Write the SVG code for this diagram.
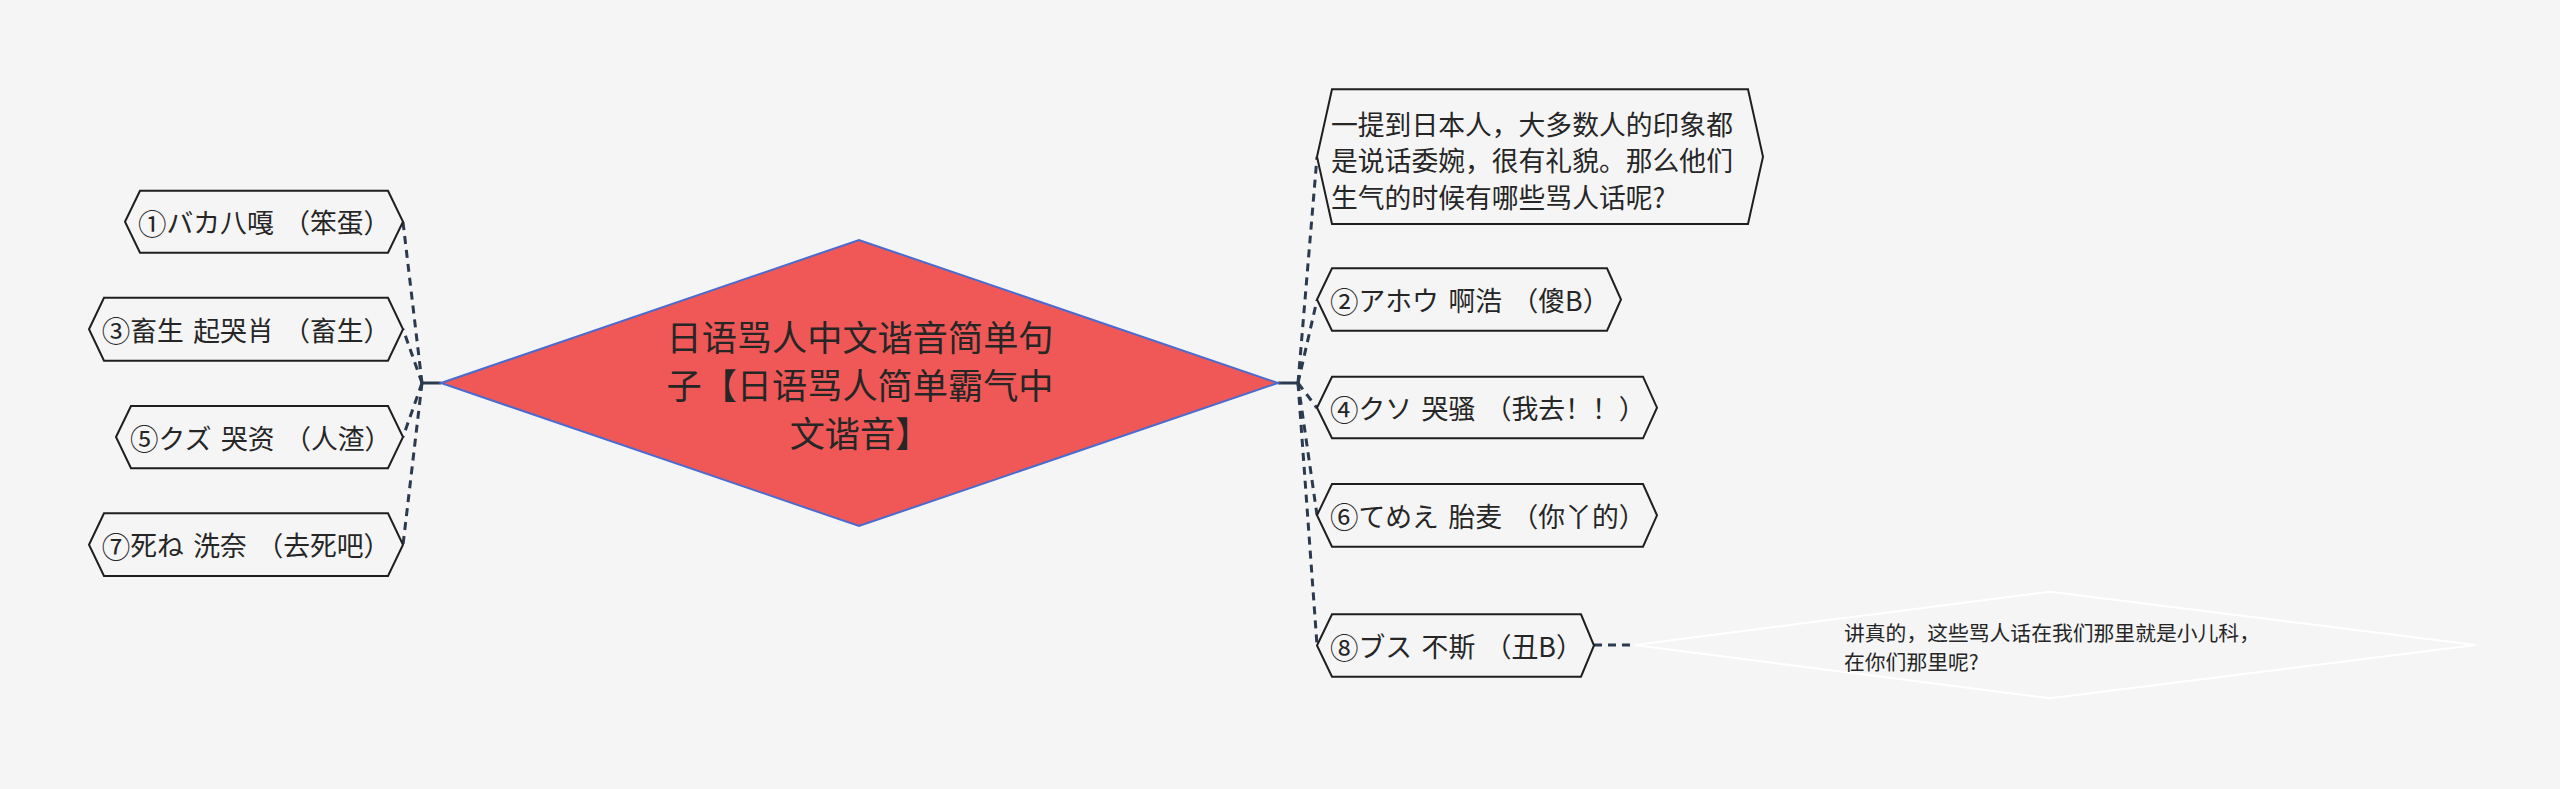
<svg xmlns="http://www.w3.org/2000/svg" width="2560" height="789" viewBox="0 0 2560 789">
<style>
text{font-family:"Noto Sans CJK SC","Noto Sans CJK JP",sans-serif;fill:#262626;dominant-baseline:central}
.node{fill:#f5f5f5;stroke:#1f1f1f;stroke-width:2}
.t{font-size:26.8px;word-spacing:3.5px}
.c{font-size:28.5px}
.dash{fill:none;stroke:#2b3a4e;stroke-width:3;stroke-dasharray:8 6}
.solid{fill:none;stroke:#2b3a4e;stroke-width:3}
</style>
<rect width="2560" height="789" fill="#f5f5f5"/>
<g id="connectors">
<line class="solid" x1="422" y1="383" x2="441" y2="383"/>
<line class="solid" x1="1278" y1="383" x2="1298" y2="383"/>
<path class="dash" d="M422,383 L403,222"/>
<path class="dash" d="M422,383 L403,329"/>
<path class="dash" d="M422,383 L403,437"/>
<path class="dash" d="M422,383 L403,545"/>
<path class="dash" d="M1298,383 L1317,157"/>
<path class="dash" d="M1298,383 L1317,300"/>
<path class="dash" d="M1298,383 L1317,408"/>
<path class="dash" d="M1298,383 L1317,515"/>
<path class="dash" d="M1298,383 L1317,645"/>
<path class="dash" d="M1594,645 L1634,645"/>
</g>
<g id="center">
<polygon points="441,383 859,240 1278,383 859,526" fill="#f05858" stroke="#4a6bd0" stroke-width="2"/>
<text x="860" y="335" font-size="35.2" text-anchor="middle">日语骂人中文谐音简单句</text>
<text x="860" y="383" font-size="35.2" text-anchor="middle">子【日语骂人简单霸气中</text>
<text x="860" y="431" font-size="35.2" text-anchor="middle">文谐音】</text>
</g>
<g id="n1">
<polygon class="node" points="125,221.7 140,190.7 388,190.7 403,221.7 388,252.7 140,252.7"/>
<text class="t" x="138" y="221.7"><tspan class="c">①</tspan>バカ八嘎 （笨蛋）</text>
</g>
<g id="n3">
<polygon class="node" points="89,329.2 104,297.7 388,297.7 403,329.2 388,360.7 104,360.7"/>
<text class="t" x="101.7" y="329.2"><tspan class="c">③</tspan>畜生 起哭肖 （畜生）</text>
</g>
<g id="n5">
<polygon class="node" points="116,437 131,406 388,406 403,437 388,468.3 131,468.3"/>
<text class="t" x="130" y="437"><tspan class="c">⑤</tspan>クズ 哭资 （人渣）</text>
</g>
<g id="n7">
<polygon class="node" points="89,544.7 104,513.3 388,513.3 403,544.7 388,576 104,576"/>
<text class="t" x="101.7" y="544.7"><tspan class="c">⑦</tspan>死ね 洗奈 （去死吧）</text>
</g>
<g id="desc">
<polygon class="node" points="1317,156.7 1332,89.3 1748,89.3 1763,156.7 1748,224 1332,224"/>
<text class="t" x="1331" y="123">一提到日本人，大多数人的印象都</text>
<text class="t" x="1331" y="159.5">是说话委婉，很有礼貌。那么他们</text>
<text class="t" x="1331" y="196">生气的时候有哪些骂人话呢?</text>
</g>
<g id="n2">
<polygon class="node" points="1317,299.5 1332,268.3 1607,268.3 1621,299.5 1607,330.7 1332,330.7"/>
<text class="t" x="1330" y="299.5"><tspan class="c">②</tspan>アホウ 啊浩 （傻B）</text>
</g>
<g id="n4">
<polygon class="node" points="1317,407.7 1332,376.7 1643,376.7 1657,407.7 1643,438.3 1332,438.3"/>
<text class="t" x="1330" y="407.7"><tspan class="c">④</tspan>クソ 哭骚 （我去！！）</text>
</g>
<g id="n6">
<polygon class="node" points="1317,515.3 1332,484 1643,484 1657,515.3 1643,546.7 1332,546.7"/>
<text class="t" x="1330" y="515.3"><tspan class="c">⑥</tspan>てめえ 胎麦 （你丫的）</text>
</g>
<g id="n8">
<polygon class="node" points="1317,645.5 1332,614.3 1581,614.3 1594,645.5 1581,676.7 1332,676.7"/>
<text class="t" x="1330" y="645.5"><tspan class="c">⑧</tspan>ブス 不斯 （丑B）</text>
</g>
<g id="note">
<polygon points="1634.5,645 2050,591.7 2475.5,645 2050,698.3" fill="#f5f5f5" stroke="#ffffff" stroke-width="2"/>
<text x="1844" y="632" font-size="20.8">讲真的，这些骂人话在我们那里就是小儿科，</text>
<text x="1844" y="661" font-size="20.8">在你们那里呢?</text>
</g>
</svg>
